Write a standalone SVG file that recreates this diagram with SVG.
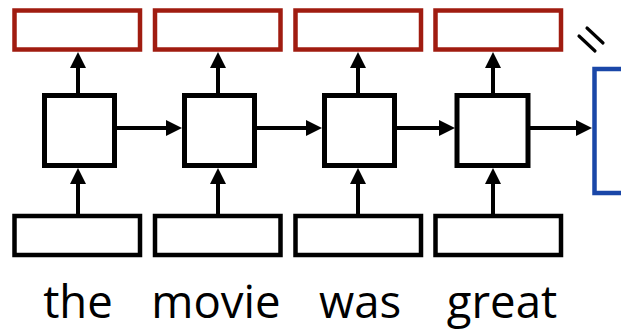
<svg xmlns="http://www.w3.org/2000/svg" width="621" height="331" viewBox="0 0 621 331">
  <style>
    .out { fill: #fff; stroke: #a01c10; stroke-width: 4.5; }
    .cell { fill: #fff; stroke: #000; stroke-width: 5; }
    .emb { fill: #fff; stroke: #000; stroke-width: 4.5; }
    .cls { fill: #fff; stroke: #1a47a8; stroke-width: 4.5; }
    .edge { stroke: #000; stroke-width: 4; fill: none; }
    .word { font-family: "Open Sans", "Noto Sans", sans-serif; font-size: 45.5px; fill: #000; text-anchor: middle; }
    .eq { stroke: #000; stroke-width: 3.2; stroke-linecap: round; }
  </style>
  <defs>
    <!-- filled head; the line stops 13px before the tip -->
    <marker id="head" viewBox="0 0 16 16" refX="3" refY="8" markerWidth="16" markerHeight="16" markerUnits="userSpaceOnUse" orient="auto">
      <path d="M0,0 L16,8 L0,16 Z" fill="#000"/>
    </marker>
  </defs>

  <rect width="621" height="331" fill="#fff"/>

  <!-- output vectors -->
  <g id="out1"><rect class="out" x="14.5" y="10.5" width="125.5" height="39"/></g>
  <g id="out2"><rect class="out" x="155" y="10.5" width="125.5" height="39"/></g>
  <g id="out3"><rect class="out" x="295.5" y="10.5" width="125.5" height="39"/></g>
  <g id="out4"><rect class="out" x="435.5" y="10.5" width="125.5" height="39"/></g>

  <!-- recurrent cells -->
  <g id="cell1"><rect class="cell" x="44.5" y="95.5" width="70" height="70"/></g>
  <g id="cell2"><rect class="cell" x="184.5" y="95.5" width="70" height="70"/></g>
  <g id="cell3"><rect class="cell" x="324.5" y="95.5" width="70" height="70"/></g>
  <g id="cell4"><rect class="cell" x="457" y="95.5" width="71" height="70"/></g>

  <!-- input embeddings -->
  <g id="emb1"><rect class="emb" x="14.5" y="216" width="125.5" height="39"/></g>
  <g id="emb2"><rect class="emb" x="155" y="216" width="125.5" height="39"/></g>
  <g id="emb3"><rect class="emb" x="295.5" y="216" width="125.5" height="39"/></g>
  <g id="emb4"><rect class="emb" x="435.5" y="216" width="125.5" height="39"/></g>

  <!-- classifier box, cut off at the right -->
  <g id="classifier"><rect class="cls" x="594.5" y="69" width="60" height="124"/></g>

  <!-- equals sign, tilted -->
  <g id="equals">
    <line class="eq" x1="587" y1="28" x2="603" y2="43"/>
    <line class="eq" x1="579" y1="36" x2="595" y2="51"/>
  </g>

  <!-- connectors -->
  <g id="edges">
    <line class="edge" x1="78" y1="93" x2="78" y2="65" marker-end="url(#head)"/>
    <line class="edge" x1="218" y1="93" x2="218" y2="65" marker-end="url(#head)"/>
    <line class="edge" x1="358" y1="93" x2="358" y2="65" marker-end="url(#head)"/>
    <line class="edge" x1="493" y1="93" x2="493" y2="65" marker-end="url(#head)"/>

    <line class="edge" x1="78" y1="214" x2="78" y2="181" marker-end="url(#head)"/>
    <line class="edge" x1="218" y1="214" x2="218" y2="181" marker-end="url(#head)"/>
    <line class="edge" x1="358" y1="214" x2="358" y2="181" marker-end="url(#head)"/>
    <line class="edge" x1="493" y1="214" x2="493" y2="181" marker-end="url(#head)"/>

    <line class="edge" x1="117" y1="128" x2="169" y2="128" marker-end="url(#head)"/>
    <line class="edge" x1="257" y1="128" x2="309" y2="128" marker-end="url(#head)"/>
    <line class="edge" x1="397" y1="128" x2="442" y2="128" marker-end="url(#head)"/>
    <line class="edge" x1="530" y1="128" x2="579" y2="128" marker-end="url(#head)"/>
  </g>

  <!-- words -->
  <g id="words">
    <text class="word" x="78" y="318">the</text>
    <text class="word" x="216" y="318">movie</text>
    <text class="word" x="360" y="318">was</text>
    <text class="word" x="502" y="318">great</text>
  </g>
</svg>
